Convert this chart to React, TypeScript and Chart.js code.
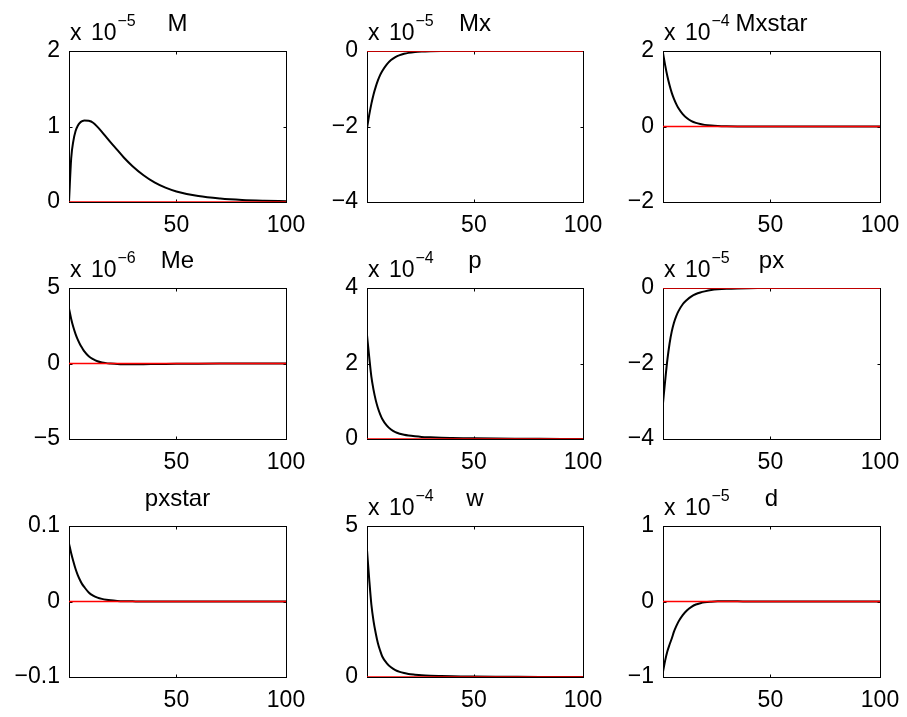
import React, { useEffect, useRef } from 'react';
import { Chart, registerables } from 'chart.js';

Chart.register(...registerables);

// ---- data (values in the units shown on each panel, i.e. already divided by 10^exponent) ----
const STEPS = [1, 2, 3, 4, 5, 6, 7, 8, 10, 12, 14, 16, 18, 20, 23, 26, 30, 35, 40, 45, 50, 60, 70, 80, 90, 100];

const M_VALUES = [0, 0.58, 0.81, 0.94, 1.01, 1.05, 1.07, 1.08, 1.075, 1.05, 0.995, 0.93, 0.86, 0.79, 0.69, 0.59, 0.475, 0.355, 0.26, 0.19, 0.14, 0.078, 0.045, 0.026, 0.016, 0.01];
const MX_VALUES = [-2.05, -1.7, -1.4, -1.15, -0.95, -0.78, -0.64, -0.53, -0.36, -0.24, -0.16, -0.11, -0.075, -0.05, -0.028, -0.016, -0.008, -0.003, -0.001, 0, 0, 0, 0, 0, 0, 0];
const MXSTAR_VALUES = [1.95, 1.62, 1.33, 1.09, 0.89, 0.73, 0.6, 0.49, 0.33, 0.22, 0.145, 0.097, 0.065, 0.043, 0.024, 0.013, 0.006, 0.002, 0.001, 0, 0, 0, 0, 0, 0, 0];
const ME_VALUES = [3.65, 2.95, 2.4, 1.95, 1.58, 1.28, 1.03, 0.8, 0.48, 0.29, 0.15, 0.07, 0.025, 0, -0.03, -0.045, -0.05, -0.045, -0.035, -0.025, -0.018, -0.01, -0.005, -0.002, 0, 0];
const P_VALUES = [2.75, 2.18, 1.65, 1.3, 1.03, 0.82, 0.66, 0.53, 0.36, 0.25, 0.18, 0.14, 0.11, 0.09, 0.07, 0.055, 0.045, 0.035, 0.028, 0.022, 0.018, 0.012, 0.008, 0.005, 0.003, 0.002];
const PX_VALUES = [-3.05, -2.45, -1.9, -1.47, -1.15, -0.92, -0.75, -0.62, -0.43, -0.31, -0.22, -0.16, -0.12, -0.09, -0.055, -0.035, -0.02, -0.01, -0.005, -0.003, -0.002, -0.001, 0, 0, 0, 0];
const PXSTAR_VALUES = [0.077, 0.064, 0.053, 0.043, 0.035, 0.0285, 0.023, 0.019, 0.012, 0.0078, 0.0052, 0.0035, 0.0023, 0.0015, 0.0008, 0.0004, 0.0002, 0, 0, 0, 0, 0, 0, 0, 0, 0];
const W_VALUES = [4.2, 3.25, 2.4, 1.85, 1.45, 1.12, 0.88, 0.68, 0.46, 0.32, 0.23, 0.17, 0.13, 0.1, 0.075, 0.055, 0.04, 0.03, 0.022, 0.017, 0.013, 0.008, 0.005, 0.003, 0.002, 0.001];
const D_VALUES = [-0.93, -0.78, -0.66, -0.57, -0.49, -0.4, -0.33, -0.27, -0.18, -0.115, -0.07, -0.04, -0.022, -0.01, -0.002, 0.002, 0.003, 0.002, 0.001, 0, 0, 0, 0, 0, 0, 0];

const TITLES = ['M', 'Mx', 'Mxstar', 'Me', 'p', 'px', 'pxstar', 'w', 'd'];
const EXPONENTS: (number | null)[] = [-5, -5, -4, -6, -4, -5, null, -4, -5];
const X_TICKS = [50, 100];
const Y_TICKS_M = [0, 1, 2];
const Y_TICKS_MX = [-4, -2, 0];
const Y_TICKS_MXSTAR = [-2, 0, 2];
const Y_TICKS_ME = [-5, 0, 5];
const Y_TICKS_P = [0, 2, 4];
const Y_TICKS_PX = [-4, -2, 0];
const Y_TICKS_PXSTAR = [-0.1, 0, 0.1];
const Y_TICKS_W = [0, 5];
const Y_TICKS_D = [-1, 0, 1];

const SERIES = [M_VALUES, MX_VALUES, MXSTAR_VALUES, ME_VALUES, P_VALUES, PX_VALUES, PXSTAR_VALUES, W_VALUES, D_VALUES];
const Y_TICKS = [Y_TICKS_M, Y_TICKS_MX, Y_TICKS_MXSTAR, Y_TICKS_ME, Y_TICKS_P, Y_TICKS_PX, Y_TICKS_PXSTAR, Y_TICKS_W, Y_TICKS_D];

// ---- layout ----
const COLS: [number, number][] = [[69, 286], [367, 583], [663, 880]];
const ROWS: [number, number][] = [[51, 202], [288, 439], [526, 677]];
const PAD_L = 60, PAD_T = 50, PAD_R = 34, PAD_B = 40;
const FONT = '"Liberation Sans", Arial, Helvetica, sans-serif';

const fmt = (v: number) => (v < 0 ? '\u2212' + String(-v) : String(v));

function makeFramePlugin(title: string, exponent: number | null) {
  return {
    id: 'frame' + title,
    beforeDatasetsDraw(chart: any) {
      const ctx = chart.ctx as CanvasRenderingContext2D;
      const a = chart.chartArea;
      const L = Math.round(a.left) + 0.5;
      const R = Math.round(a.right) + 0.5;
      const T = Math.round(a.top) + 0.5;
      const B = Math.round(a.bottom) + 0.5;
      ctx.save();
      ctx.strokeStyle = '#000';
      ctx.lineWidth = 1;
      ctx.strokeRect(L, T, R - L, B - T);
      const tl = 3;
      const xs = chart.scales.x;
      const ys = chart.scales.y;
      ctx.beginPath();
      for (const v of X_TICKS) {
        const px = Math.round(xs.getPixelForValue(v)) + 0.5;
        ctx.moveTo(px, B); ctx.lineTo(px, B - tl);
        ctx.moveTo(px, T); ctx.lineTo(px, T + tl);
      }
      for (const t of ys.ticks) {
        const py = Math.round(ys.getPixelForValue(t.value)) + 0.5;
        ctx.moveTo(L, py); ctx.lineTo(L + tl, py);
        ctx.moveTo(R, py); ctx.lineTo(R - tl, py);
      }
      ctx.stroke();
      ctx.restore();
    },
    afterDraw(chart: any) {
      const ctx = chart.ctx as CanvasRenderingContext2D;
      const a = chart.chartArea;
      ctx.save();
      ctx.fillStyle = '#000';
      ctx.textBaseline = 'alphabetic';
      // title
      ctx.font = `24px ${FONT}`;
      ctx.textAlign = 'center';
      ctx.fillText(title, (a.left + a.right) / 2, a.top - 20);
      // exponent label
      if (exponent !== null) {
        ctx.textAlign = 'left';
        ctx.font = `23px ${FONT}`;
        let x = a.left + 1;
        const base = a.top - 11;
        ctx.fillText('x', x, base);
        x += ctx.measureText('x ').width + 3;
        ctx.fillText('10', x, base);
        x += ctx.measureText('10').width + 1;
        ctx.font = `16px ${FONT}`;
        ctx.fillText(fmt(exponent), x, a.top - 25);
      }
      ctx.restore();
    },
  };
}

function Panel({ idx }: { idx: number }) {
  const ref = useRef<HTMLCanvasElement>(null);
  const col = idx % 3;
  const row = Math.floor(idx / 3);
  const [l, r] = COLS[col];
  const [t, b] = ROWS[row];
  const w = r - l + PAD_L + PAD_R;
  const h = b - t + PAD_T + PAD_B;

  useEffect(() => {
    const values = SERIES[idx];
    const yTicks = Y_TICKS[idx];
    const tickFont = { family: FONT, size: 23 };
    const chart = new Chart(ref.current as HTMLCanvasElement, {
      type: 'line',
      data: {
        datasets: [
          {
            data: STEPS.map((x) => ({ x, y: 0 })),
            borderColor: '#ff0000',
            borderWidth: 1.5,
            pointRadius: 0,
            order: 0,
          },
          {
            data: STEPS.map((x, i) => ({ x, y: values[i] })),
            borderColor: '#000000',
            borderWidth: 2,
            pointRadius: 0,
            cubicInterpolationMode: 'monotone',
            order: 1,
          },
        ],
      },
      options: {
        animation: false,
        responsive: false,
        devicePixelRatio: 1,
        events: [],
        layout: { padding: { left: 0, top: PAD_T, right: PAD_R, bottom: 0 } },
        plugins: { legend: { display: false }, tooltip: { enabled: false }, title: { display: false } },
        scales: {
          x: {
            type: 'linear',
            min: 1,
            max: 100,
            grid: { display: false, drawTicks: false },
            border: { display: false },
            afterBuildTicks: (s: any) => {
              s.ticks = X_TICKS.map((v) => ({ value: v }));
            },
            afterFit: (s: any) => {
              s.height = PAD_B;
            },
            ticks: {
              font: tickFont,
              color: '#000',
              padding: 10,
              maxRotation: 0,
              autoSkip: false,
              callback: (v: any) => fmt(Number(v)),
            },
          },
          y: {
            type: 'linear',
            min: yTicks[0],
            max: yTicks[yTicks.length - 1],
            grid: { display: false, drawTicks: false },
            border: { display: false },
            afterBuildTicks: (s: any) => {
              s.ticks = yTicks.map((v) => ({ value: v }));
            },
            afterFit: (s: any) => {
              s.width = PAD_L;
            },
            ticks: {
              font: tickFont,
              color: '#000',
              padding: 9,
              autoSkip: false,
              callback: (v: any) => fmt(Number(v)),
            },
          },
        },
      } as any,
      plugins: [makeFramePlugin(TITLES[idx], EXPONENTS[idx])],
    });
    return () => chart.destroy();
  }, [idx]);

  return (
    <canvas
      ref={ref}
      width={w}
      height={h}
      style={{ position: 'absolute', left: l - PAD_L, top: t - PAD_T, width: w, height: h }}
    />
  );
}

export default function App() {
  return (
    <div
      style={{
        position: 'absolute',
        left: 0,
        top: 0,
        width: 907,
        height: 717,
        overflow: 'hidden',
        background: '#ffffff',
      }}
    >
      {TITLES.map((_, i) => (
        <Panel key={i} idx={i} />
      ))}
    </div>
  );
}
